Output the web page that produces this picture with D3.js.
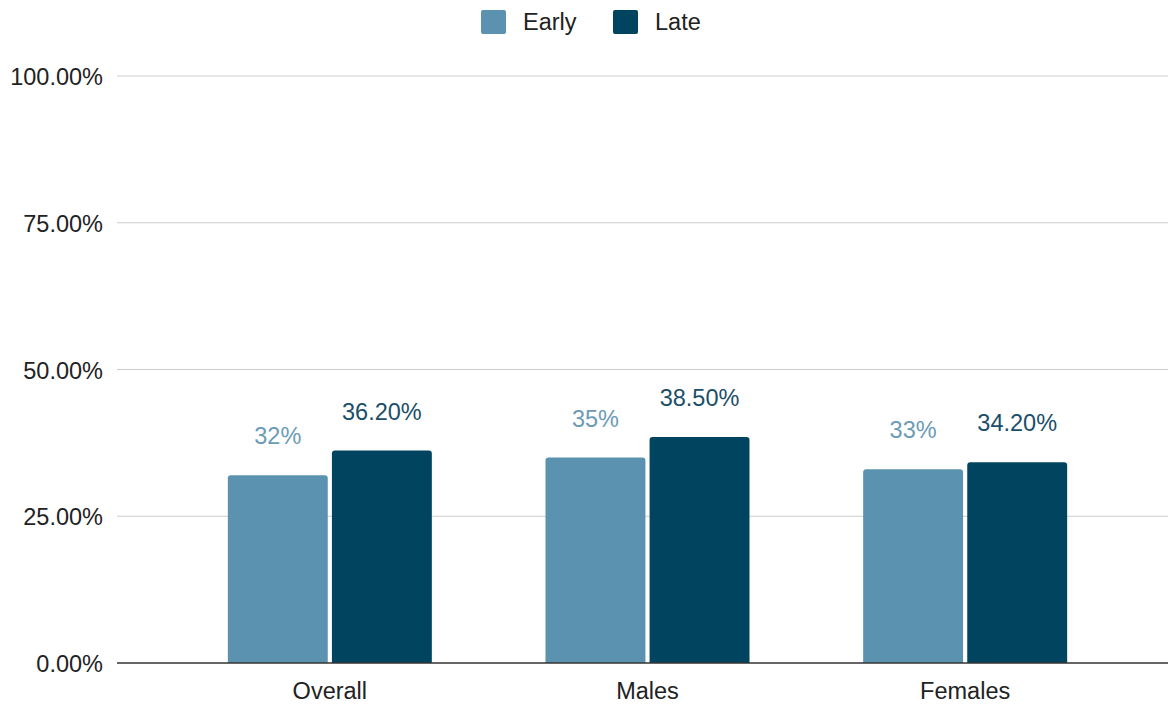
<!DOCTYPE html>
<html>
<head>
<meta charset="utf-8">
<script src="https://cdn.jsdelivr.net/npm/d3@7/dist/d3.min.js"></script>
<style>
  html, body { margin: 0; padding: 0; background: #fff; }
  svg { display: block; font-family: "Liberation Sans", Arial, sans-serif; }
</style>
</head>
<body>
<svg id="chart" width="1171" height="704"></svg>
<script>
// Data
const categories = ["Overall", "Males", "Females"];
const seriesNames = ["Early", "Late"];
const earlyValues = [32, 35, 33];
const lateValues = [36.2, 38.5, 34.2];
const earlyLabels = ["32%", "35%", "33%"];
const lateLabels = ["36.20%", "38.50%", "34.20%"];
const yTicks = [0, 25, 50, 75, 100];

const colors = { Early: "#5a92b0", Late: "#01445f" };
const labelColors = { Early: "#6b9bb7", Late: "#1b4e68" };
const FONT = "'Liberation Sans', Arial, sans-serif";
const FS = 23.5;

const svg = d3.select("#chart");
const plotLeft = 117, plotRight = 1168, plotTop = 76, plotBottom = 663;

const x = d3.scaleBand().domain(categories).range([171, 1124]).padding(0);
const inner = d3.scaleBand().domain(seriesNames).range([0, 204]).paddingInner(0.04);
const y = d3.scaleLinear().domain([0, 100]).range([plotBottom, plotTop]);

// Gridlines
svg.append("g")
  .selectAll("line")
  .data(yTicks.filter(d => d > 0))
  .join("line")
  .attr("x1", plotLeft).attr("x2", plotRight)
  .attr("y1", d => y(d)).attr("y2", d => y(d))
  .attr("stroke", "#cccccc").attr("stroke-width", 1.2);

// Y axis labels
const yAxis = d3.axisLeft(y).tickValues(yTicks).tickSize(0).tickPadding(14)
  .tickFormat(d => d.toFixed(2) + "%");
const yg = svg.append("g").attr("transform", `translate(${plotLeft},1)`).call(yAxis);
yg.select(".domain").remove();
yg.selectAll("text").attr("font-size", FS).attr("fill", "#222").attr("font-family", FONT);

// Bars
const rows = categories.map((c, i) => ({
  cat: c,
  vals: [
    { s: "Early", v: earlyValues[i], label: earlyLabels[i] },
    { s: "Late", v: lateValues[i], label: lateLabels[i] }
  ]
}));

const r = 3;
function topRoundedRect(x0, y0, w, h, rad) {
  return `M${x0},${y0 + h}V${y0 + rad}Q${x0},${y0} ${x0 + rad},${y0}` +
    `H${x0 + w - rad}Q${x0 + w},${y0} ${x0 + w},${y0 + rad}V${y0 + h}Z`;
}

const groups = svg.append("g").selectAll("g")
  .data(rows).join("g")
  .attr("transform", d => `translate(${x(d.cat) + x.bandwidth() / 2 - 102},0)`);

groups.selectAll("path")
  .data(d => d.vals).join("path")
  .attr("d", d => topRoundedRect(inner(d.s), y(d.v), inner.bandwidth(), plotBottom - y(d.v), r))
  .attr("fill", d => colors[d.s]);

groups.selectAll("text.val")
  .data(d => d.vals).join("text")
  .attr("class", "val")
  .attr("x", d => inner(d.s) + inner.bandwidth() / 2)
  .attr("y", d => y(d.v) - 31)
  .attr("text-anchor", "middle")
  .attr("font-size", FS)
  .attr("fill", d => labelColors[d.s])
  .text(d => d.label);

// Baseline
svg.append("line")
  .attr("x1", plotLeft).attr("x2", plotRight)
  .attr("y1", plotBottom).attr("y2", plotBottom)
  .attr("stroke", "#333").attr("stroke-width", 1.5);

// X axis labels
const xAxis = d3.axisBottom(x).tickSize(0).tickPadding(19);
const xg = svg.append("g").attr("transform", `translate(0,${plotBottom})`).call(xAxis);
xg.select(".domain").remove();
xg.selectAll("text").attr("font-size", FS).attr("fill", "#222").attr("font-family", FONT);

// Legend
const legend = svg.append("g");
const legendItems = [
  { s: "Early", x: 481 },
  { s: "Late", x: 613 }
];
legendItems.forEach(it => {
  legend.append("rect")
    .attr("x", it.x).attr("y", 10).attr("width", 25).attr("height", 24)
    .attr("rx", 2).attr("fill", colors[it.s]);
  legend.append("text")
    .attr("x", it.x + 42).attr("y", 30)
    .attr("font-size", FS).attr("fill", "#222")
    .text(it.s);
});
</script>
</body>
</html>
